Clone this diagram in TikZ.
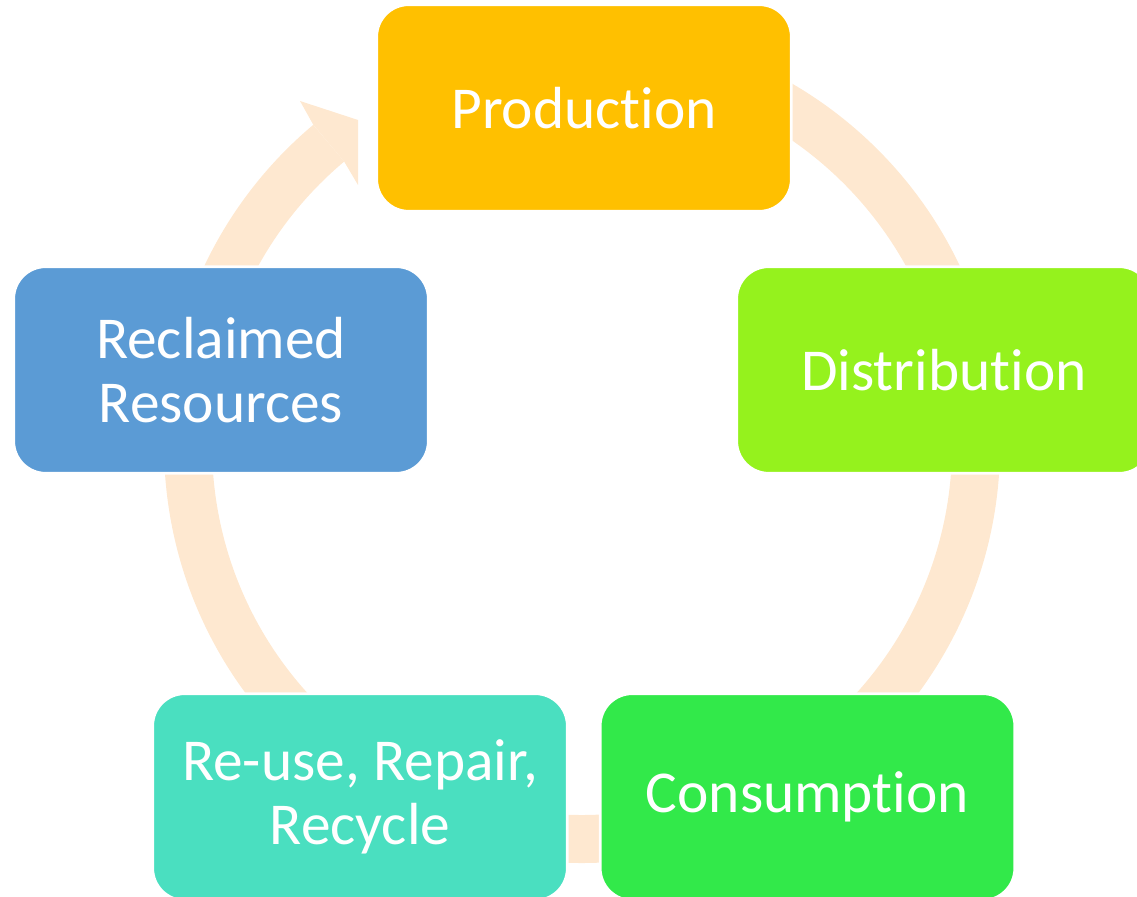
\documentclass[tikz,border=0pt]{standalone}
\usepackage{fontspec}
\setmainfont{Carlito}[Ligatures={NoCommon,NoRare,NoContextual}]
\definecolor{prodgold}{HTML}{FFC000}
\definecolor{distgreen}{HTML}{95F21D}
\definecolor{consgreen}{HTML}{32E94A}
\definecolor{reuseteal}{HTML}{4ADFC0}
\definecolor{reclaimblue}{HTML}{5B9BD5}
\definecolor{ringpeach}{HTML}{FEE8D0}
\begin{document}
\begin{tikzpicture}[
    stage/.style={draw=white, line width=1.5pt, rounded corners=0.64cm,
      minimum width=8.29cm, minimum height=4.13cm, inner sep=0pt,
      text=white, align=center, font=\fontsize{33.8}{36.3}\selectfont},
    ring/.style={draw=ringpeach, line width=0.96cm}
  ]
    \useasboundingbox (0,0) rectangle (22.74,17.92);
    \clip (0,0) rectangle (22.74,17.92);
    \coordinate (centre) at (11.64,9.02);
    % the cycle arrow, running under the boxes
    \draw [ring] (centre) ++(95:7.88) arc (95:-230:7.88);
    \fill [ringpeach] (centre) ++(130:8.36) -- (6.00,15.90) -- (7.16,15.52)
      -- (7.16,14.22) -- ([shift={(130:7.40)}]centre) -- cycle;
    % stages
    \node [stage, fill=prodgold] (production) at (11.68,15.76) {Production};
    \node [stage, fill=distgreen] (distribution) at (18.88,10.52) {Distribution};
    \node [stage, fill=consgreen] (consumption) at (16.15,1.98) {Consumption};
    \node [stage, fill=reuseteal] (reuse) at (7.20,1.98) {Re-use, Repair,\\Recycle};
    \node [stage, fill=reclaimblue] (reclaimed) at (4.42,10.52) {Reclaimed\\Resources};
\end{tikzpicture}
\end{document}
